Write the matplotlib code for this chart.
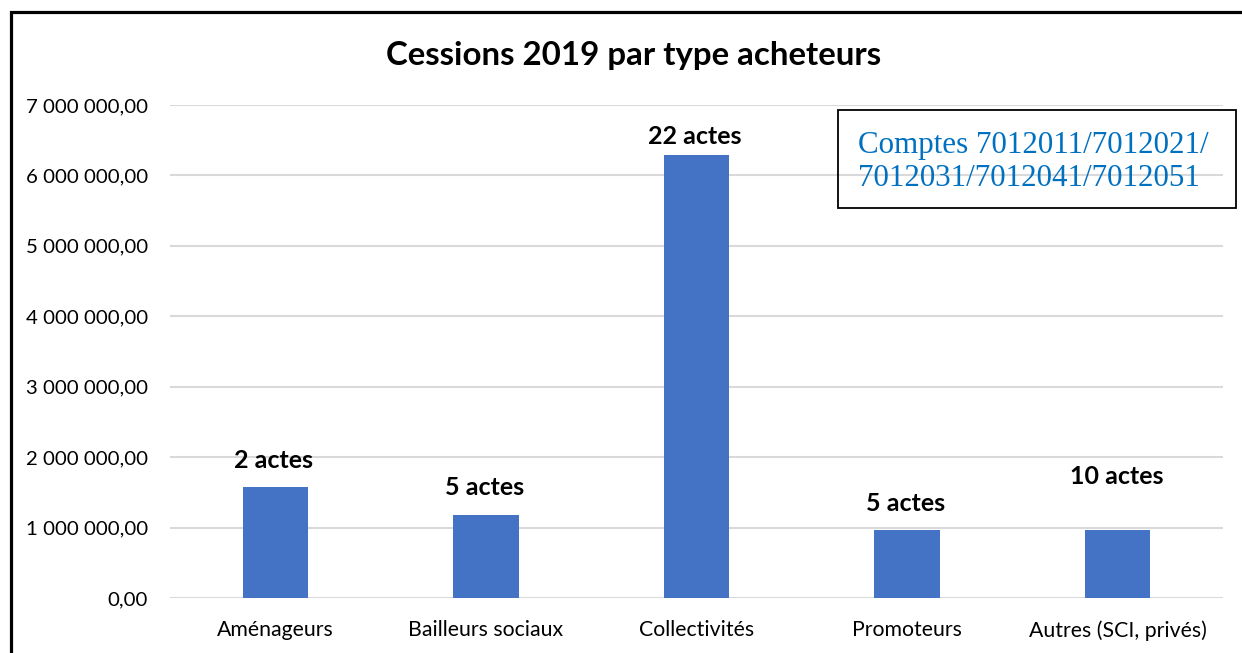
import matplotlib
matplotlib.use("Agg")
import matplotlib.pyplot as plt
from matplotlib.patches import Rectangle
from matplotlib.ticker import FuncFormatter

categories = ["Aménageurs", "Bailleurs sociaux", "Collectivités", "Promoteurs", "Autres (SCI, privés)"]
values = [1575000, 1180000, 6290000, 970000, 970000]
bar_labels = ["2 actes", "5 actes", "22 actes", "5 actes", "10 actes"]
label_offsets_pt = [19, 20, 13, 18.5, 38]
yticks = [0, 1000000, 2000000, 3000000, 4000000, 5000000, 6000000, 7000000]
title = "Cessions 2019 par type acheteurs"
note = "Comptes 7012011/7012021/\n7012031/7012041/7012051"

FONT = "Lato"
W, H = 1242, 653
fig = plt.figure(figsize=(W / 100, H / 100), dpi=100)
ax = fig.add_axes([170 / W, 1 - 598 / H, (1223 - 170) / W, (598 - 105) / H])

x = list(range(len(categories)))
ax.bar(x, values, width=0.31, color="#4472C4", zorder=3)
ax.set_xlim(-0.5, len(categories) - 0.5)
ax.set_ylim(0, 7000000)
ax.set_yticks(yticks)

def fmt(v, pos):
    s = f"{int(round(v)):,}".replace(",", " ")
    return s + ",00"

ax.yaxis.set_major_formatter(FuncFormatter(fmt))
ax.set_xticks(x)
ax.set_xticklabels(categories)
ax.tick_params(axis="y", length=0, labelsize=14.7, colors="black", pad=16)
ax.tick_params(axis="x", length=0, labelsize=15.3, colors="black", pad=16)
for lab in ax.get_xticklabels() + ax.get_yticklabels():
    lab.set_fontfamily(FONT)
for s in ax.spines.values():
    s.set_visible(False)
ax.yaxis.grid(True, color="#D9D9D9", linewidth=1.5, zorder=0)
ax.set_axisbelow(True)

for xi, v, lab, off in zip(x, values, bar_labels, label_offsets_pt):
    ax.annotate(lab, (xi, v), xytext=(-1, off), textcoords="offset points",
                ha="center", va="center", fontsize=18, fontweight="bold", family=FONT)

fig.text(634 / W, 1 - 55 / H, title, ha="center", va="center", fontsize=23.8,
         fontweight="bold", family=FONT)

fig.text(858 / W, 1 - 162 / H, note, ha="left", va="center", fontsize=22.3,
         family="Liberation Serif", color="#0070C0", linespacing=1.2)
fig.patches.append(Rectangle((838 / W, 1 - 208 / H), (1236 - 838) / W, (208 - 110) / H,
                             transform=fig.transFigure, fill=False, edgecolor="black",
                             linewidth=1.3, zorder=5))
fig.patches.append(Rectangle((10.5 / W, -0.1), 1.2, (1 - 11.5 / H) + 0.1,
                             transform=fig.transFigure, fill=False, edgecolor="black",
                             linewidth=2.3, zorder=6))

fig.savefig("out.png", dpi=100)
